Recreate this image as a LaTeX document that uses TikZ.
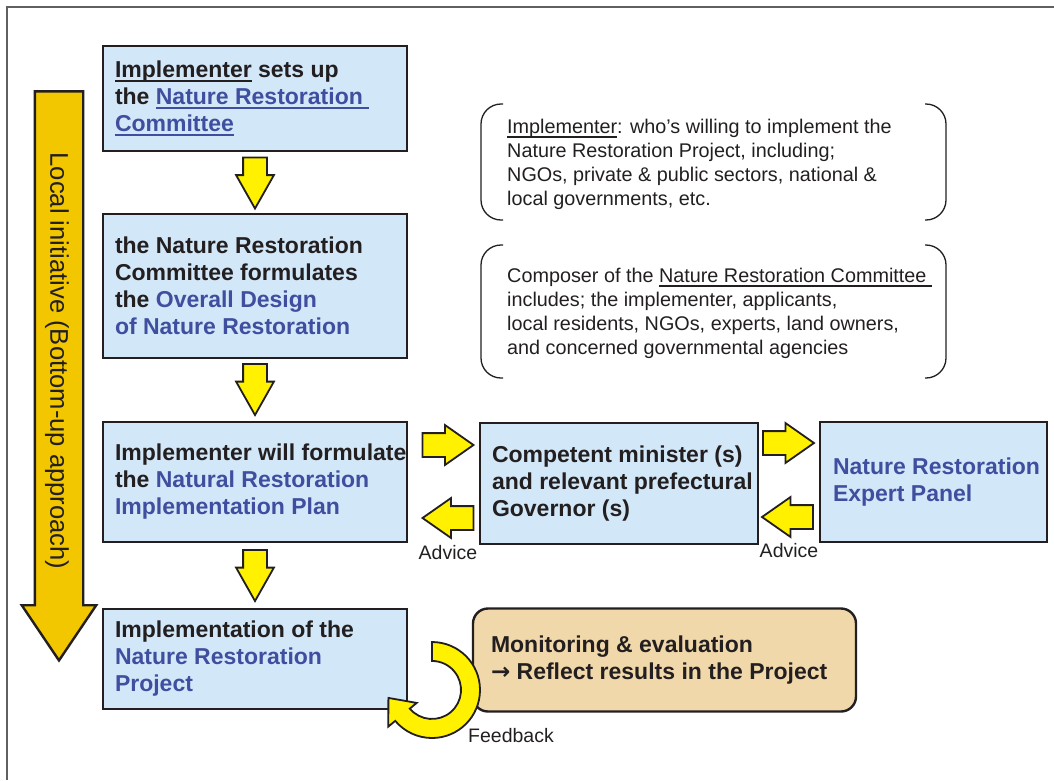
\documentclass[tikz,border=0pt]{standalone}
\usepackage{fontspec}
\setmainfont{Liberation Sans}
\newfontfamily\arrowfont{DejaVu Sans}
\usetikzlibrary{shapes.arrows}

\definecolor{boxblue}{HTML}{D2E7F8}
\definecolor{linkblue}{HTML}{3F4E9F}
\definecolor{inkdark}{HTML}{231F20}
\definecolor{arrowyellow}{HTML}{FFF100}
\definecolor{arrowgold}{HTML}{F2C700}
\definecolor{monitortan}{HTML}{F0D8AA}
\definecolor{framegray}{HTML}{606060}

% underline sitting just below the baseline
\newcommand{\undl}[2][1.8pt]{\leavevmode{\setbox0=\hbox{#2}\rlap{\vrule width\wd0 height -2.8pt depth \dimexpr 2.8pt+#1\relax}\box0}}
% box text: width, left inset, lines
\newcommand{\boxtext}[3]{\parbox{#1}{\parindent=0pt\leftskip=#2\rightskip=-8pt plus 1fil\relax #3}}

\tikzset{
  stagebox/.style={draw=inkdark, line width=2.4pt, fill=boxblue, inner sep=0pt,
    text=inkdark, font=\fontsize{23}{27}\selectfont\bfseries},
  monitorbox/.style={stagebox, fill=monitortan, rounded corners=15pt},
  notetext/.style={inner sep=0pt, align=left, text=inkdark, font=\fontsize{19.8}{23.8}\selectfont},
  smalllabel/.style={inner sep=0pt, text=inkdark, font=\fontsize{19.5}{22}\selectfont},
  downarrow/.style={single arrow, draw=inkdark, line width=1.8pt, fill=arrowyellow, inner sep=11pt,
    minimum height=51pt, single arrow head extend=7pt,
    single arrow tip angle=59, shape border rotate=270},
  sidearrow/.style={single arrow, draw=inkdark, line width=1.8pt, fill=arrowyellow, inner sep=11pt,
    minimum height=51pt, single arrow head extend=8pt,
    single arrow tip angle=70},
  bracket/.style={draw=inkdark, line width=1.3pt, rounded corners=20pt},
}

\begin{document}
\begin{tikzpicture}[x=1pt, y=-1pt]
  \useasboundingbox (0,0) rectangle (1054,780);
  \draw[framegray, line width=1.2pt] (7,780) -- (7,7) -- (1054,7);

  % bottom-up arrow
  \node[single arrow, draw=inkdark, line width=2.4pt, fill=arrowgold, inner sep=23pt,
    minimum height=569pt, single arrow head extend=13pt,
    single arrow tip angle=68, shape border rotate=270] (local) at (59,358) {};
  \node[inner sep=0pt, rotate=-90, text=inkdark, font=\fontsize{25.6}{28}\selectfont]
    (localtext) at (57,361) {Local initiative (Bottom-up approach)};

  % stages
  \node[stagebox, minimum width=304pt, minimum height=105pt] (setup) at (255,98.5)
    {\boxtext{304pt}{12pt}{\undl{Implementer} sets up\\the {\color{linkblue}\undl{Nature Restoration\ }\\\undl{Committee}}}};
  \node[stagebox, minimum width=304pt, minimum height=144pt] (design) at (255,286)
    {\boxtext{304pt}{12pt}{the Nature Restoration\\Committee formulates\\the {\color{linkblue}Overall Design\\of Nature Restoration}}};
  \node[stagebox, minimum width=304pt, minimum height=120pt] (plan) at (255,482)
    {\boxtext{304pt}{12pt}{Implementer will formulate\\the {\color{linkblue}Natural Restoration\\Implementation Plan}}};
  \node[stagebox, minimum width=304pt, minimum height=100pt] (project) at (255,659)
    {\boxtext{304pt}{12pt}{Implementation of the\\{\color{linkblue}Nature Restoration\\Project}}};
  \node[stagebox, minimum width=278pt, minimum height=121pt] (minister) at (619,483.5)
    {\boxtext{278pt}{12pt}{Competent minister (s)\\and relevant prefectural\\Governor (s)}};
  \node[stagebox, minimum width=227pt, minimum height=120pt] (panel) at (933.5,482)
    {\boxtext{227pt}{13pt}{\color{linkblue}Nature Restoration\\Expert Panel}};
  \node[monitorbox, minimum width=383pt, minimum height=103pt] (monitor) at (664.5,660)
    {\boxtext{383pt}{18pt}{Monitoring \& evaluation\\{\arrowfont →} Reflect results in the Project}};

  % arrows between stages
  \node[downarrow] (d1) at (255,172.5) {};
  \node[downarrow] (d2) at (255,379) {};
  \node[downarrow] (d3) at (255,565) {};
  \node[sidearrow] (r1) at (439.5,445) {};
  \node[sidearrow, shape border rotate=180] (l1) at (456.5,518) {};
  \node[sidearrow] (r2) at (780,443) {};
  \node[sidearrow, shape border rotate=180] (l2) at (796,517) {};
  \node[smalllabel] (advice1) at (448,553) {Advice};
  \node[smalllabel] (advice2) at (789,551) {Advice};

  % feedback loop
  \draw[inkdark, line width=1.8pt, fill=arrowyellow, line join=miter]
    (432,642) arc[start angle=-90, end angle=140, radius=48]
    -- (388.3,726.6) -- (388.4,697.9) -- (416.7,702.9) -- (409.8,708.6)
    arc[start angle=140, end angle=-90, radius=29] -- cycle;
  \node[smalllabel] (feedback) at (511,736) {Feedback};

  % notes
  \node[notetext, anchor=base west] (implnote) at (507,205)
    {\undl[1.3pt]{Implementer}: who’s willing to implement the\\Nature Restoration Project, including;\\NGOs, private \& public sectors, national \&\\local governments, etc.};
  \node[notetext, anchor=base west] (compnote) at (507,354)
    {Composer of the \undl[1.3pt]{Nature Restoration Committee\ }\\includes; the implementer, applicants,\\local residents, NGOs, experts, land owners,\\and concerned governmental agencies};
  \draw[bracket] (503,104) -- (481,104) -- (481,220) -- (503,220);
  \draw[bracket] (925,104) -- (946,104) -- (946,220) -- (925,220);
  \draw[bracket] (503,245) -- (481,245) -- (481,378) -- (503,378);
  \draw[bracket] (925,245) -- (946,245) -- (946,378) -- (925,378);
\end{tikzpicture}
\end{document}
